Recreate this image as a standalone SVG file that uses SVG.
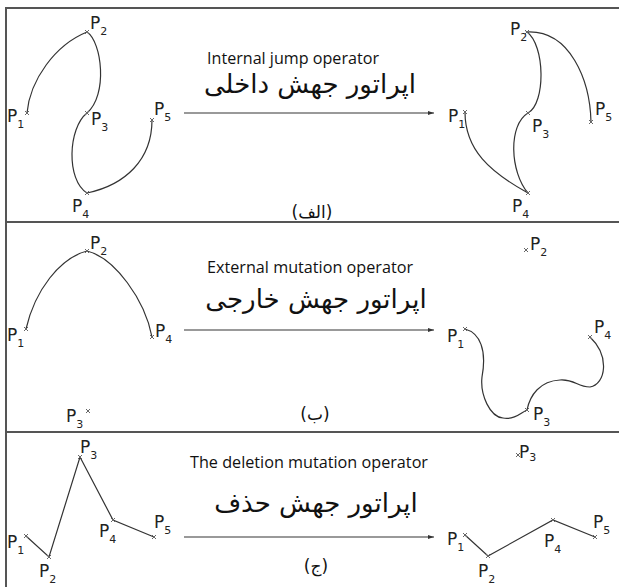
<svg xmlns="http://www.w3.org/2000/svg" width="619" height="587" viewBox="0 0 619 587">
<defs>
<marker id="ah" viewBox="0 0 10 10" refX="10" refY="5" markerWidth="6" markerHeight="6" orient="auto" markerUnits="userSpaceOnUse">
<path d="M0,1.5 L10,5 L0,8.5 Z" fill="#333"/>
</marker>
<style>
.frame{stroke:#555;stroke-width:2;fill:none}
.curve{stroke:#333;stroke-width:1.2;fill:none}
.arrow{stroke:#777;stroke-width:1.5;fill:none}
.pt{stroke:#666;stroke-width:1;fill:none}
.lbl{font-family:"DejaVu Sans",sans-serif;font-size:17px;fill:#222}
.sub{font-size:11px}
.en{font-family:"Open Sans","Liberation Sans",sans-serif;font-size:15.5px;fill:#111}
.fa{font-family:"DejaVu Sans",sans-serif;font-size:26px;fill:#111}
.fa2{font-family:"DejaVu Sans",sans-serif;font-size:17px;fill:#111}
</style>
</defs>
<rect width="619" height="587" fill="#fff"/>
<g id="frame">
<path class="frame" d="M6,587 V8 H619 M6,222 H619 M6,432 H619"/>
</g>

<g id="connectors">
<!-- panel 1 -->
<path class="curve" d="M27,113 C30,80 55,45 87,32 C102,42 108,95 87,113 C68,128 66,180 87,193 C125,185 152,160 152,120"/>
<path class="curve" d="M465,112 C465,150 490,172 528,193 C510,172 508,125 528,113 C546,103 545,45 527,32 C570,30 590,80 591,122"/>
<line class="arrow" x1="184" y1="113" x2="434" y2="113" marker-end="url(#ah)"/>
<!-- panel 2 -->
<path class="curve" d="M26,329 C35,290 60,258 87,251 C115,258 145,300 152,337"/>
<path class="curve" d="M465,329 C480,333 487,350 482,377 C480,395 490,417 503,418 C515,420 522,412 527,410 C530,395 540,381 560,380 C575,379 577,387 590,387 C606,384 610,356 590,337"/>
<line class="arrow" x1="184" y1="330" x2="434" y2="330" marker-end="url(#ah)"/>
<!-- panel 3 -->
<polyline class="curve" points="26,536 49,557 80,457 113,520 154,537"/>
<polyline class="curve" points="465,535 488,556 553,520 595,537"/>
<line class="arrow" x1="184" y1="537" x2="434" y2="537" marker-end="url(#ah)"/>
</g>

<g id="points">
<path class="pt" d="M25,111l4,4m0,-4l-4,4 M85,30l4,4m0,-4l-4,4 M85,111l4,4m0,-4l-4,4 M85,191l4,4m0,-4l-4,4 M150,118l4,4m0,-4l-4,4"/>
<path class="pt" d="M463,110l4,4m0,-4l-4,4 M525,30l4,4m0,-4l-4,4 M526,111l4,4m0,-4l-4,4 M526,191l4,4m0,-4l-4,4 M589,120l4,4m0,-4l-4,4"/>
<path class="pt" d="M24,327l4,4m0,-4l-4,4 M85,249l4,4m0,-4l-4,4 M150,335l4,4m0,-4l-4,4 M86,409l4,4m0,-4l-4,4"/>
<path class="pt" d="M463,327l4,4m0,-4l-4,4 M524,248l4,4m0,-4l-4,4 M588,335l4,4m0,-4l-4,4 M525,408l4,4m0,-4l-4,4"/>
<path class="pt" d="M24,534l4,4m0,-4l-4,4 M47,555l4,4m0,-4l-4,4 M78,455l4,4m0,-4l-4,4 M111,518l4,4m0,-4l-4,4 M152,535l4,4m0,-4l-4,4"/>
<path class="pt" d="M463,533l4,4m0,-4l-4,4 M486,554l4,4m0,-4l-4,4 M551,518l4,4m0,-4l-4,4 M593,535l4,4m0,-4l-4,4 M516,453l4,4m0,-4l-4,4"/>
</g>

<g id="panel1">
<g id="p1-left">
<text class="lbl" x="7" y="122">P<tspan class="sub" dy="6">1</tspan></text>
<text class="lbl" x="90" y="29">P<tspan class="sub" dy="6">2</tspan></text>
<text class="lbl" x="91" y="125">P<tspan class="sub" dy="6">3</tspan></text>
<text class="lbl" x="72" y="212">P<tspan class="sub" dy="6">4</tspan></text>
<text class="lbl" x="154" y="115">P<tspan class="sub" dy="6">5</tspan></text>
</g>
<g id="p1-right">
<text class="lbl" x="448" y="122">P<tspan class="sub" dy="6">1</tspan></text>
<text class="lbl" x="510" y="35">P<tspan class="sub" dy="6">2</tspan></text>
<text class="lbl" x="532" y="132">P<tspan class="sub" dy="6">3</tspan></text>
<text class="lbl" x="512" y="212">P<tspan class="sub" dy="6">4</tspan></text>
<text class="lbl" x="595" y="115">P<tspan class="sub" dy="6">5</tspan></text>
</g>
<g id="op1">
<text class="en" x="293" y="64" text-anchor="middle" textLength="172" lengthAdjust="spacingAndGlyphs">Internal jump operator</text>
<text class="fa" x="310" y="93" text-anchor="middle">اپراتور جهش داخلی</text>
<text class="fa2" x="312" y="218" text-anchor="middle">(الف)</text>
</g>
</g>

<g id="panel2">
<g id="p2-left">
<text class="lbl" x="7" y="341">P<tspan class="sub" dy="6">1</tspan></text>
<text class="lbl" x="90" y="249">P<tspan class="sub" dy="6">2</tspan></text>
<text class="lbl" x="66" y="422">P<tspan class="sub" dy="6">3</tspan></text>
<text class="lbl" x="155" y="337">P<tspan class="sub" dy="6">4</tspan></text>
</g>
<g id="p2-right">
<text class="lbl" x="447" y="342">P<tspan class="sub" dy="6">1</tspan></text>
<text class="lbl" x="530" y="250">P<tspan class="sub" dy="6">2</tspan></text>
<text class="lbl" x="533" y="420">P<tspan class="sub" dy="6">3</tspan></text>
<text class="lbl" x="594" y="333">P<tspan class="sub" dy="6">4</tspan></text>
</g>
<g id="op2">
<text class="en" x="310" y="273" text-anchor="middle" textLength="206" lengthAdjust="spacingAndGlyphs">External mutation operator</text>
<text class="fa" x="316" y="308" text-anchor="middle">اپراتور جهش خارجی</text>
<text class="fa2" x="315" y="420" text-anchor="middle">(ب)</text>
</g>
</g>

<g id="panel3">
<g id="p3-left">
<text class="lbl" x="7" y="548">P<tspan class="sub" dy="6">1</tspan></text>
<text class="lbl" x="39" y="577">P<tspan class="sub" dy="6">2</tspan></text>
<text class="lbl" x="80" y="453">P<tspan class="sub" dy="6">3</tspan></text>
<text class="lbl" x="99" y="537">P<tspan class="sub" dy="6">4</tspan></text>
<text class="lbl" x="154" y="528">P<tspan class="sub" dy="6">5</tspan></text>
</g>
<g id="p3-right">
<text class="lbl" x="447" y="545">P<tspan class="sub" dy="6">1</tspan></text>
<text class="lbl" x="478" y="577">P<tspan class="sub" dy="6">2</tspan></text>
<text class="lbl" x="519" y="458">P<tspan class="sub" dy="3">3</tspan></text>
<text class="lbl" x="544" y="547">P<tspan class="sub" dy="6">4</tspan></text>
<text class="lbl" x="593" y="528">P<tspan class="sub" dy="6">5</tspan></text>
</g>
<g id="op3">
<text class="en" x="309" y="468" text-anchor="middle" textLength="238" lengthAdjust="spacingAndGlyphs">The deletion mutation operator</text>
<text class="fa" x="316" y="512" text-anchor="middle">اپراتور جهش حذف</text>
<text class="fa2" x="316" y="572" text-anchor="middle">(ج)</text>
</g>
</g>
</svg>
